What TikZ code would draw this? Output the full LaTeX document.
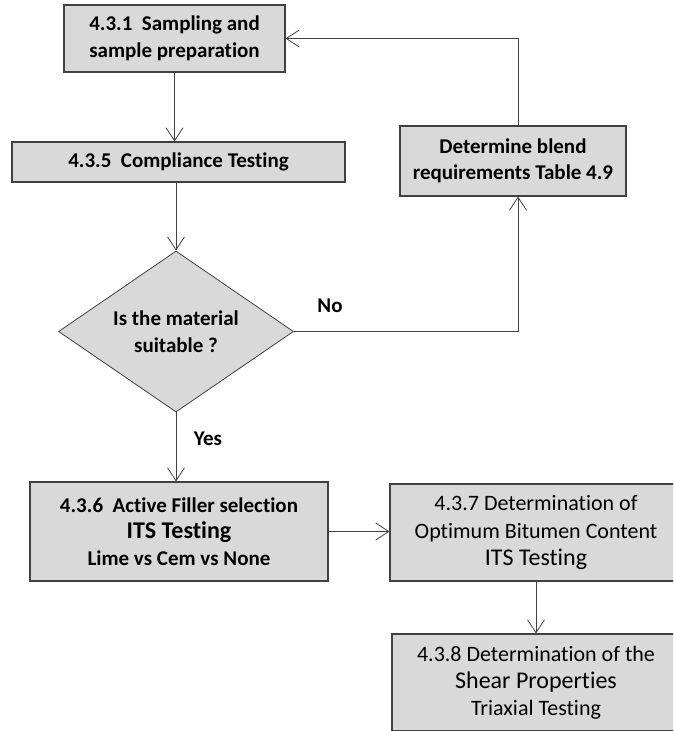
\documentclass[tikz,border=0pt]{standalone}
\usepackage{fontspec}
\setmainfont{Carlito}[Ligatures=NoCommon]
\usetikzlibrary{shapes.geometric,arrows.meta}
\definecolor{boxgray}{HTML}{D9D9D9}
\definecolor{linegray}{HTML}{404040}
\newcommand{\fsmall}{\fontsize{21}{27}\selectfont}
\newcommand{\fbig}{\fontsize{24}{27}\selectfont}
\begin{document}
\begin{tikzpicture}[x=1pt,y=-1pt,
  stepbox/.style={rectangle, draw=linegray, line width=1.1pt, fill=boxgray, align=center, inner sep=0pt, font=\bfseries\fontsize{21}{26.5}\selectfont},
  choice/.style={diamond, draw=linegray, line width=0.8pt, fill=boxgray, align=center, inner sep=0pt, aspect=1.46, font=\bfseries\fontsize{21}{27}\selectfont},
  flow/.style={draw=linegray, line width=0.8pt, -{Straight Barb[length=13pt,width=17pt]}},
  answer/.style={font=\bfseries\fontsize{21}{26}\selectfont}]
\clip (0,0) rectangle (673,731);
\fill[white] (0,0) rectangle (673,731);
\node[stepbox, minimum width=221pt, minimum height=67pt] (sampling) at (174.5,38.5){4.3.1 \ Sampling and\\sample preparation};
\node[stepbox, minimum width=333pt, minimum height=40pt] (compliance) at (178.5,162){4.3.5 \ Compliance Testing};
\node[stepbox, minimum width=226pt, minimum height=70pt] (blend) at (513,161){Determine blend\\requirements Table 4.9};
\node[choice, minimum width=235pt, minimum height=161pt] (suitable) at (176,331.5){Is the material\\suitable ?};
\node[stepbox, minimum width=298pt, minimum height=99pt] (filler) at (179,531.5){4.3.6 \ Active Filler selection\\{\fbig ITS Testing}\\{\fsmall Lime vs Cem vs None}};
\node[stepbox, font=\mdseries\fontsize{22}{27.5}\selectfont, minimum width=292pt, minimum height=97pt] (bitumen) at (536,532.5){4.3.7 Determination of\\Optimum Bitumen Content\\{\fbig ITS Testing}};
\node[stepbox, font=\mdseries\fontsize{22}{27}\selectfont, minimum width=288pt, minimum height=97pt] (shear) at (536,682.5){4.3.8 Determination of the\\{\fbig Shear Properties}\\Triaxial Testing};
\coordinate (nobend) at (518,331.5);
\node[answer] (no) at (330,306){No};
\node[answer] (yes) at (208,439){Yes};
\draw[flow](sampling) -- (sampling |- compliance.north);
\draw[flow](compliance.south -| suitable.north) -- (suitable.north);
\draw[flow](suitable.south) -- (suitable.south |- filler.north);
\draw[flow](suitable.east) -- (nobend) -- (nobend |- blend.south);
\draw[flow](nobend |- blend.north) |- (sampling.east);
\draw[flow](filler.east) -- (filler.east -| bitumen.west);
\draw[flow](bitumen.south) -- (shear.north);
\end{tikzpicture}
\end{document}
